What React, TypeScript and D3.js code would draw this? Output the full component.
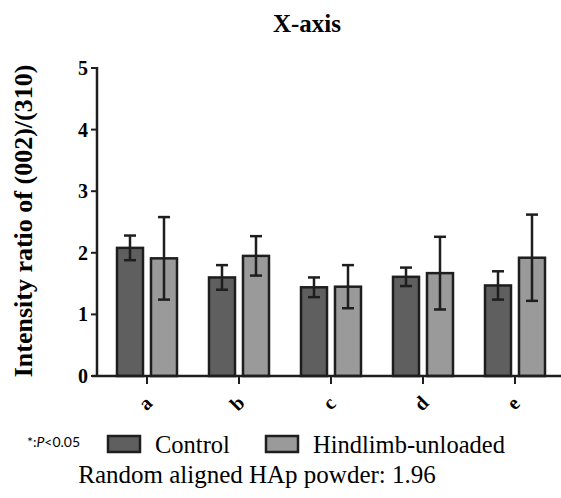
import * as d3 from "d3";

const categories = ["a", "b", "c", "d", "e"];
const series = ["Control", "Hindlimb-unloaded"];
const controlMean = [2.08, 1.6, 1.44, 1.61, 1.47];
const controlErr = [0.2, 0.2, 0.16, 0.15, 0.23];
const unloadedMean = [1.91, 1.95, 1.45, 1.67, 1.92];
const unloadedErr = [0.67, 0.32, 0.35, 0.59, 0.7];
const yTicks = [0, 1, 2, 3, 4, 5];

const W = 561;
const H = 498;
const SERIF = "'Liberation Serif', 'Times New Roman', Tinos, serif";
const SMALL = "Lato, 'Open Sans', sans-serif";
const colors = ["#5f5f5f", "#9a9a9a"];
const INK = "#1e1e1e";

export default function App() {
  const y = d3.scaleLinear().domain([0, 5]).range([376, 68]);
  const x = d3.scaleBand().domain(categories).range([101, 561]);
  const bw = x.bandwidth();
  const sub = d3
    .scaleBand()
    .domain(series)
    .range([bw / 2 - 30, bw / 2 + 30])
    .paddingInner(0.235);

  const data = categories.map((c, i) => ({
    cat: c,
    vals: [
      { s: series[0], m: controlMean[i], e: controlErr[i] },
      { s: series[1], m: unloadedMean[i], e: unloadedErr[i] },
    ],
  }));

  const axisX = 97;
  const cap = 6;

  return (
    <svg width={W} height={H} style={{ position: "absolute", left: 0, top: 0, fontFamily: SERIF }}>
      <rect width={W} height={H} fill="#fff" />
      <text x={307} y={32} textAnchor="middle" fontWeight="bold" fontSize={25}>
        X-axis
      </text>
      <text transform={`translate(32, 221) rotate(-90)`} textAnchor="middle" fontWeight="bold" fontSize={26}>
        Intensity ratio of (002)/(310)
      </text>

      {data.map((d) => (
        <g key={d.cat} transform={`translate(${x(d.cat)},0)`}>
          {d.vals.map((v, j) => {
            const bx = sub(v.s)!;
            const cx = bx + sub.bandwidth() / 2;
            return (
              <g key={v.s}>
                <rect
                  x={bx}
                  y={y(v.m)}
                  width={sub.bandwidth()}
                  height={y(0) - y(v.m)}
                  fill={colors[j]}
                  stroke={INK}
                  strokeWidth={2.5}
                />
                <line x1={cx} x2={cx} y1={y(v.m + v.e)} y2={y(v.m - v.e)} stroke={INK} strokeWidth={2.5} />
                <line x1={cx - cap} x2={cx + cap} y1={y(v.m + v.e)} y2={y(v.m + v.e)} stroke={INK} strokeWidth={2.5} />
                <line x1={cx - cap} x2={cx + cap} y1={y(v.m - v.e)} y2={y(v.m - v.e)} stroke={INK} strokeWidth={2.5} />
              </g>
            );
          })}
        </g>
      ))}

      {/* y axis */}
      <line x1={axisX} x2={axisX} y1={y(5) - 1} y2={y(0) + 1} stroke={INK} strokeWidth={2.5} />
      {yTicks.map((t) => (
        <g key={t}>
          <line x1={axisX - 6} x2={axisX} y1={y(t)} y2={y(t)} stroke={INK} strokeWidth={2} />
          <text x={axisX - 9} y={y(t)} dy="0.35em" textAnchor="end" fontWeight="bold" fontSize={20}>
            {t}
          </text>
        </g>
      ))}

      {/* x axis */}
      <line x1={axisX - 5} x2={561} y1={y(0)} y2={y(0)} stroke={INK} strokeWidth={2.5} />
      {categories.map((c) => {
        const cx = x(c)! + bw / 2;
        return (
          <g key={c}>
            <line x1={cx} x2={cx} y1={y(0)} y2={y(0) + 8} stroke={INK} strokeWidth={2} />
            <text
              transform={`translate(${cx - 2}, ${y(0) + 27}) rotate(-45)`}
              textAnchor="middle"
              dy="0.35em"
              fontWeight="bold"
              fontSize={20}
            >
              {c}
            </text>
          </g>
        );
      })}

      {/* legend */}
      <text x={27} y={447} fontSize={14} style={{ fontFamily: SMALL }}>
        *:<tspan fontStyle="italic">P</tspan>&lt;0.05
      </text>
      {series.map((s, j) => {
        const lx = j === 0 ? 108 : 266;
        return (
          <g key={s}>
            <rect x={lx} y={436} width={32} height={16} fill={colors[j]} stroke={INK} strokeWidth={2.5} />
            <text x={lx + 47} y={453} fontSize={24.5}>
              {s}
            </text>
          </g>
        );
      })}
      <text x={257} y={483} textAnchor="middle" fontSize={25}>
        Random aligned HAp powder: 1.96
      </text>
    </svg>
  );
}
